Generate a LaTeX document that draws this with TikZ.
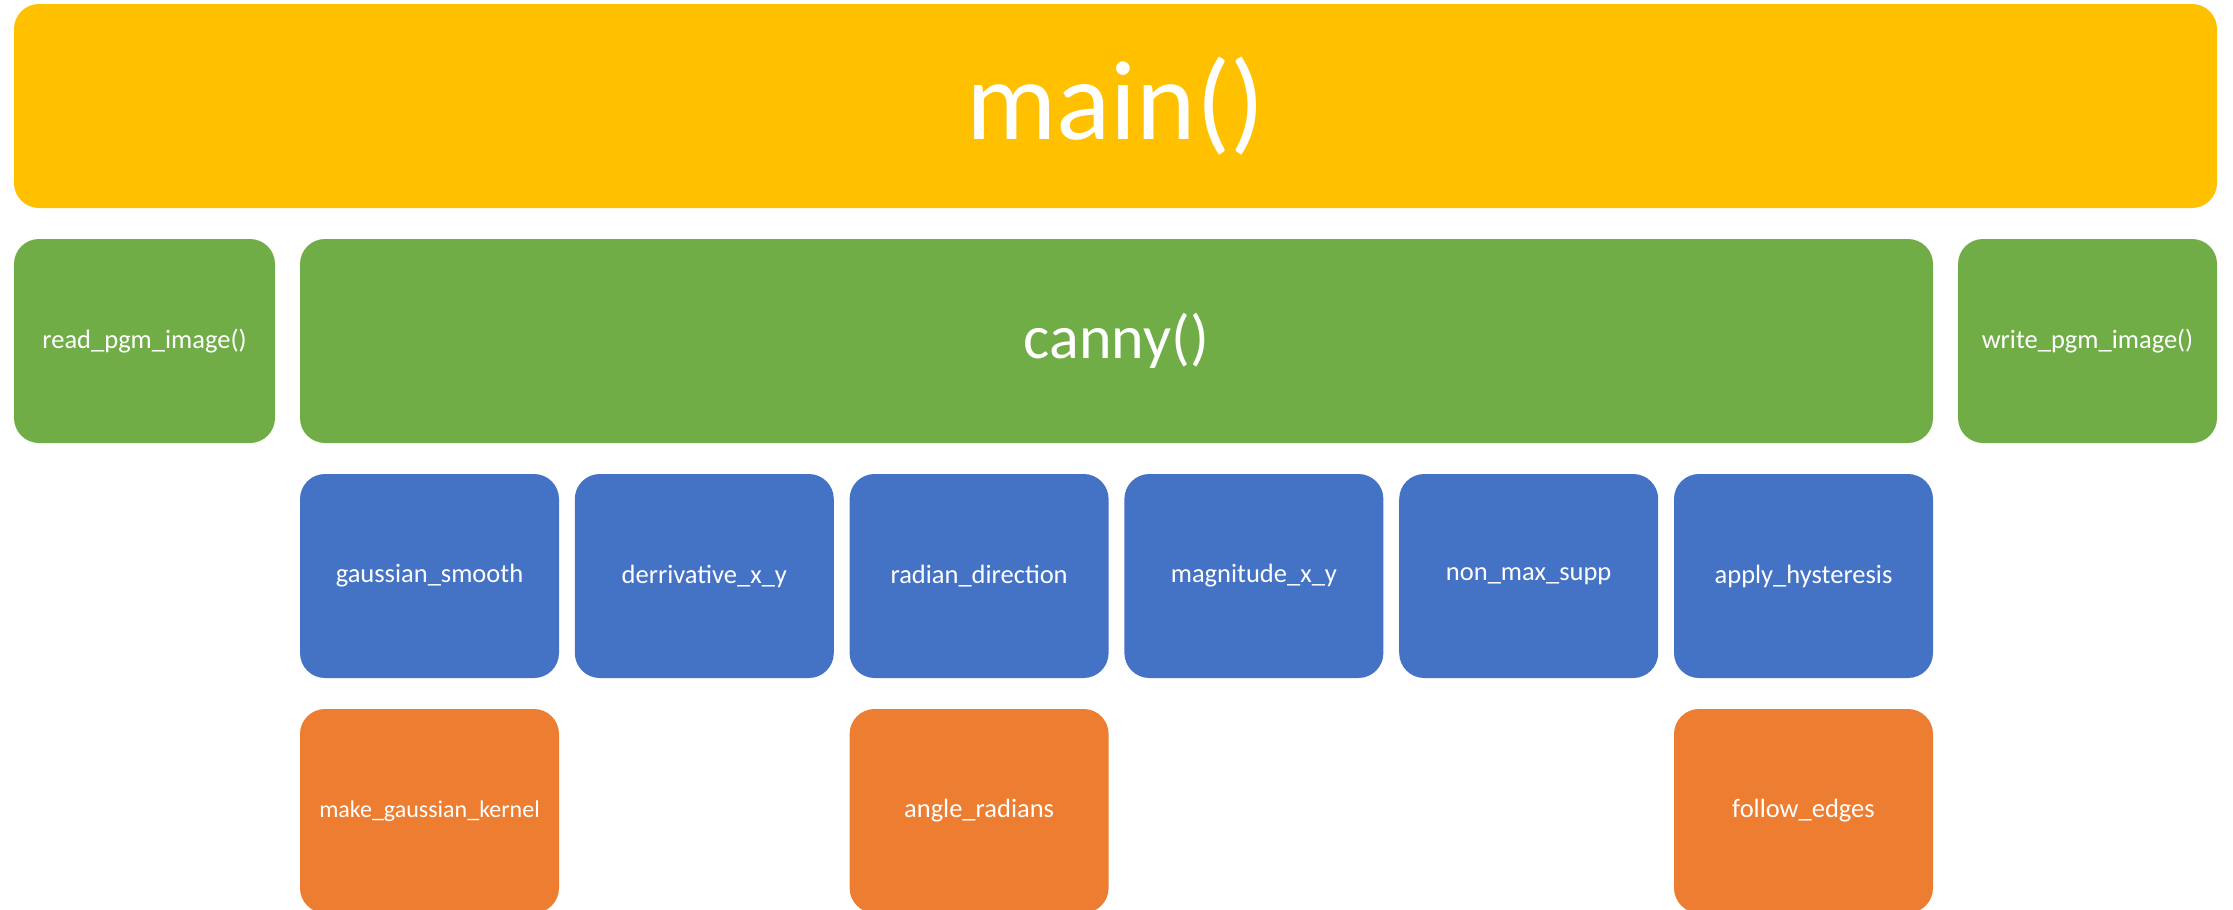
\documentclass[tikz,border=0pt]{standalone}
\usepackage{fontspec}
\setmainfont{Carlito}
\definecolor{cyellow}{HTML}{FFC000}
\definecolor{cgreen}{HTML}{70AD47}
\definecolor{cblue}{HTML}{4472C4}
\definecolor{corange}{HTML}{ED7D31}
\tikzset{
  box/.style={rectangle, rounded corners=25pt, inner sep=0pt, text=white, minimum height=204pt, font=\fontsize{26.5}{30}\selectfont},
  mainbox/.style={box, fill=cyellow, minimum width=2203pt, font=\fontsize{113}{120}\selectfont},
  greenbox/.style={box, fill=cgreen},
  bluebox/.style={box, fill=cblue, minimum width=259pt},
  orangebox/.style={box, fill=corange, minimum width=259pt},
}
\begin{document}
\begin{tikzpicture}[x=1pt,y=-1pt]
\useasboundingbox (0,0) rectangle (2233,910);
\node[mainbox] (main) at (1115.5,106) {main()};
\node[greenbox, minimum width=261pt] (read) at (144.5,341) {read\_pgm\_image()};
\node[greenbox, minimum width=1633pt, font=\fontsize{62}{70}\selectfont] (canny) at (1116.5,341) {canny()};
\node[greenbox, minimum width=259pt] (write) at (2087.5,341) {write\_pgm\_image()};
\node[bluebox] (gs) at (429.5,576) {gaussian\_smooth};
\node[bluebox] (dxy) at (704.3,576) {derrivative\_x\_y};
\node[bluebox] (rd) at (979.1,576) {radian\_direction};
\node[bluebox] (mxy) at (1253.9,576) {magnitude\_x\_y};
\node[bluebox] (nms) at (1528.7,576) {non\_max\_supp};
\node[bluebox] (ah) at (1803.5,576) {apply\_hysteresis};
\node[orangebox, font=\fontsize{24}{28}\selectfont] (mgk) at (429.5,811) {make\_gaussian\_kernel};
\node[orangebox] (ar) at (979.1,811) {angle\_radians};
\node[orangebox] (fe) at (1803.5,811) {follow\_edges};
\end{tikzpicture}
\end{document}
